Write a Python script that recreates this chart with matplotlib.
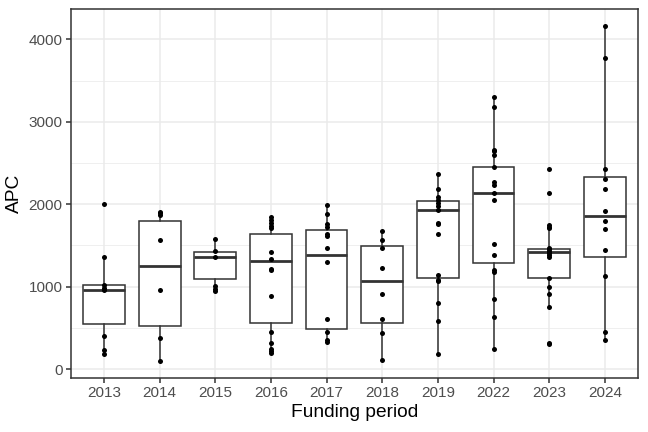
import matplotlib
matplotlib.use("Agg")
import matplotlib.pyplot as plt
from matplotlib.ticker import MultipleLocator

plt.rcParams['font.family'] = ['Liberation Sans', 'DejaVu Sans']

years = ["2013", "2014", "2015", "2016", "2017", "2018", "2019", "2022", "2023", "2024"]

points = {
    "2013": [2000, 1364, 1014, 986, 962, 406, 229, 181],
    "2014": [1911, 1887, 1867, 1561, 954, 378, 98],
    "2015": [1573, 1437, 1364, 1002, 970, 946],
    "2016": [1839, 1807, 1771, 1738, 1706, 1421, 1336, 1219, 1199, 885, 447, 310, 241, 217, 197],
    "2017": [1988, 1879, 1755, 1726, 1638, 1614, 1473, 1296, 608, 455, 354, 322],
    "2018": [1678, 1569, 1473, 1223, 905, 604, 443, 105],
    "2019": [2372, 2186, 2089, 2049, 2016, 1980, 1935, 1773, 1757, 1644, 1138, 1085, 1069, 806, 587, 182],
    "2022": [3296, 3178, 2656, 2640, 2599, 2449, 2267, 2227, 2138, 2045, 1522, 1389, 1198, 1182, 850, 628, 243],
    "2023": [2429, 2134, 1745, 1725, 1709, 1474, 1453, 1433, 1409, 1385, 1360, 1101, 996, 907, 757, 320, 308],
    "2024": [4161, 3769, 2421, 2300, 2186, 1919, 1798, 1700, 1441, 1130, 445, 352],
}

# box statistics
q1 =      [543, 523, 1087, 559, 487, 563, 1109, 1291, 1101, 1360]
medians = [958, 1256, 1364, 1316, 1384, 1066, 1935, 2130, 1425, 1854]
q3 =      [1018, 1799, 1421, 1634, 1690, 1497, 2036, 2445, 1457, 2332]
whislo =  [181, 98, 946, 197, 322, 105, 182, 243, 757, 352]
whishi =  [1364, 1911, 1573, 1839, 1988, 1678, 2372, 3296, 1745, 4161]

fig = plt.figure(figsize=(6.48, 4.32), dpi=100)
ax = fig.add_axes([0.109, 0.1257, 0.876, 0.8528])

pos = list(range(1, len(years) + 1))
stats = []
for i, y in enumerate(years):
    stats.append(dict(med=medians[i], q1=q1[i], q3=q3[i], whislo=whislo[i], whishi=whishi[i], fliers=[]))

ax.bxp(stats, positions=pos, widths=0.75, showcaps=False, patch_artist=True,
       boxprops=dict(facecolor='white', edgecolor='#333333', linewidth=1.1),
       whiskerprops=dict(color='#333333', linewidth=1.1),
       medianprops=dict(color='#333333', linewidth=2.0), zorder=2)

for i, y in enumerate(years):
    vals = points[y]
    ax.plot([pos[i]] * len(vals), vals, 'o', color='black', markersize=3.6,
            markeredgewidth=0, zorder=3)

ax.set_xlim(0.4, 10.6)
ax.set_ylim(-105, 4364)
ax.set_xticks(pos)
ax.set_xticklabels(years)
ax.yaxis.set_major_locator(MultipleLocator(1000))
ax.yaxis.set_minor_locator(MultipleLocator(500))

ax.grid(True, which='major', color='#EBEBEB', linewidth=1.1, zorder=0)
ax.grid(True, which='minor', axis='y', color='#EBEBEB', linewidth=0.55, zorder=0)
ax.set_axisbelow(True)

for s in ax.spines.values():
    s.set_color('#333333')
    s.set_linewidth(1.1)

ax.tick_params(axis='both', which='major', colors='#333333', length=3.4, width=1.1,
               labelsize=11, labelcolor='#4D4D4D', pad=2.5)
ax.tick_params(axis='y', which='minor', length=0)

ax.set_xlabel("Funding period", fontsize=13.75, color='black', labelpad=3)
ax.set_ylabel("APC", fontsize=13.75, color='black', labelpad=4)

fig.savefig("out.png", dpi=100)
